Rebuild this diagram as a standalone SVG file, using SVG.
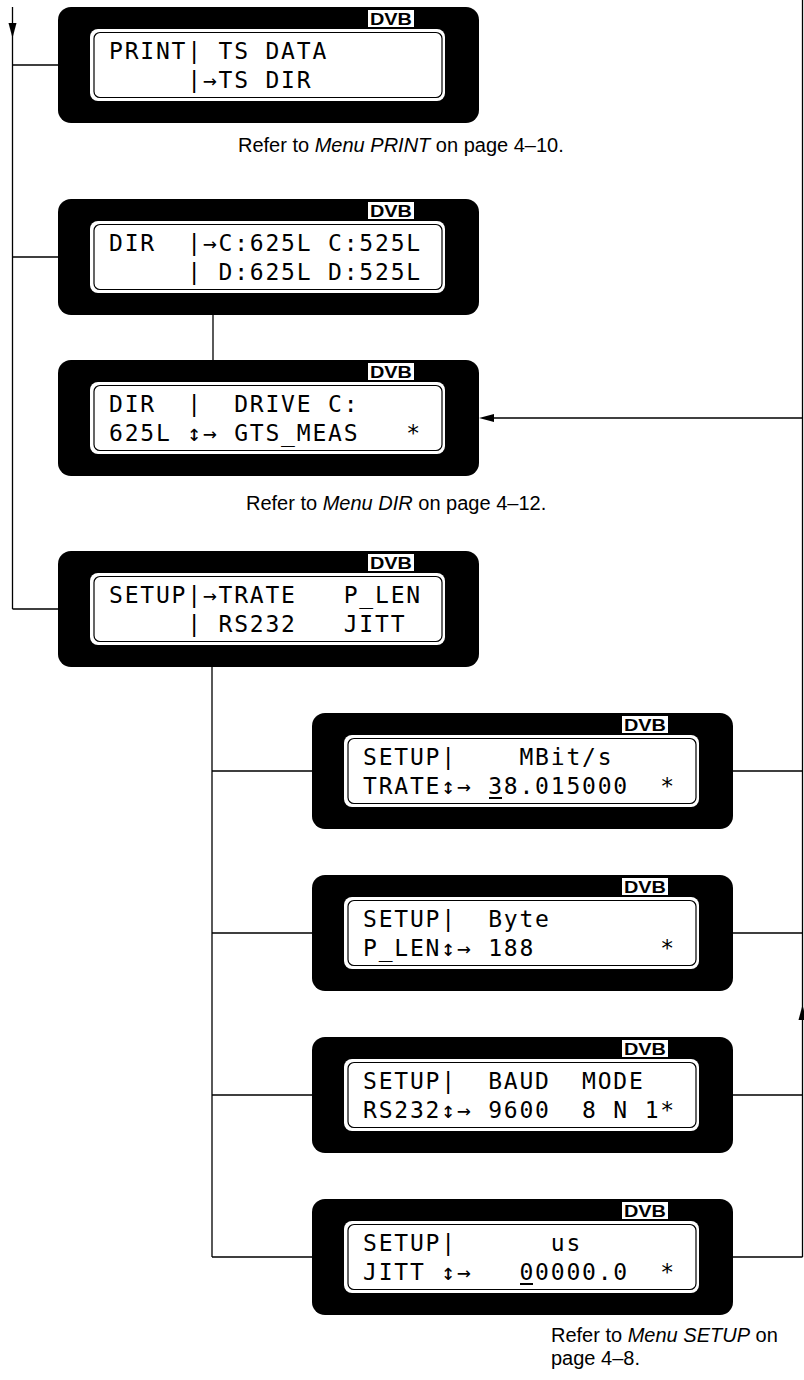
<svg xmlns="http://www.w3.org/2000/svg" width="804" height="1380" viewBox="0 0 804 1380">
<style>
.frame{fill:#000}
.panel{fill:#fff}
.bezel{fill:none;stroke:#000;stroke-width:1.2}
.lcd{font-family:"DejaVu Sans Mono",monospace;font-size:23px;letter-spacing:1.8px;fill:#000;white-space:pre}
.logobg{fill:#fff}
.logo{font-family:"Liberation Sans",Arial,sans-serif;font-weight:bold;font-size:17px;fill:#000}
.cap{font-family:"Liberation Sans",Arial,sans-serif;font-size:20px;fill:#000}
.wire{stroke:#000;stroke-width:1.3;fill:none}
.ul{stroke:#000;stroke-width:2}
</style>
<defs>
<g id="lcdbox">
<rect class="frame" x="0" y="0" width="421" height="116" rx="13"/>
<rect class="panel" x="32" y="22" width="355" height="72" rx="8"/>
<rect class="bezel" x="36" y="25.5" width="348" height="65" rx="6"/>
<rect class="logobg" x="310" y="3" width="46" height="17"/>
<text class="logo" x="312" y="18" textLength="42" lengthAdjust="spacingAndGlyphs">DVB</text>
</g>
</defs>

<g id="connectors">
<path class="wire" d="M12.5,7 V609 M12.5,65 H58 M12.5,257 H58 M12.5,609 H58"/>
<polygon points="8.5,23 16.5,23 12.5,38" fill="#000"/>
<path class="wire" d="M213,315 V360"/>
<path class="wire" d="M212,667 V1257 M212,771 H312 M212,933 H312 M212,1095 H312 M212,1257 H312"/>
<path class="wire" d="M802.5,0 V1257 M733,771 H802.5 M733,933 H802.5 M733,1095 H802.5 M733,1257 H802.5"/>
<path class="wire" d="M802.5,418 H492"/>
<polygon points="479,418 494,414 494,422" fill="#000"/>
<polygon points="802.5,1005 798.5,1020 806.5,1020" fill="#000"/>
</g>

<g id="print" transform="translate(58,7)">
<use href="#lcdbox"/>
<text class="lcd" x="51" y="52">PRINT| TS DATA</text>
<text class="lcd" x="51" y="81">     |→TS DIR</text>
</g>

<g id="dirlist" transform="translate(58,199)">
<use href="#lcdbox"/>
<text class="lcd" x="51" y="52">DIR  |→C:625L C:525L</text>
<text class="lcd" x="51" y="81">     | D:625L D:525L</text>
</g>

<g id="dirdrive" transform="translate(58,360)">
<use href="#lcdbox"/>
<text class="lcd" x="51" y="52">DIR  |  DRIVE C:</text>
<text class="lcd" x="51" y="81">625L ↕→ GTS_MEAS   *</text>
</g>

<g id="setup" transform="translate(58,551)">
<use href="#lcdbox"/>
<text class="lcd" x="51" y="52">SETUP|→TRATE   P_LEN</text>
<text class="lcd" x="51" y="81">     | RS232   JITT</text>
</g>

<g id="trate" transform="translate(312,713)">
<use href="#lcdbox"/>
<text class="lcd" x="51" y="52">SETUP|    MBit/s</text>
<text class="lcd" x="51" y="81">TRATE↕→ 38.015000  *</text>
<line class="ul" x1="177" y1="85" x2="190" y2="85"/>
</g>

<g id="plen" transform="translate(312,875)">
<use href="#lcdbox"/>
<text class="lcd" x="51" y="52">SETUP|  Byte</text>
<text class="lcd" x="51" y="81">P_LEN↕→ 188        *</text>
</g>

<g id="rs232" transform="translate(312,1037)">
<use href="#lcdbox"/>
<text class="lcd" x="51" y="52">SETUP|  BAUD  MODE</text>
<text class="lcd" x="51" y="81">RS232↕→ 9600  8 N 1*</text>
</g>

<g id="jitt" transform="translate(312,1199)">
<use href="#lcdbox"/>
<text class="lcd" x="51" y="52">SETUP|      us</text>
<text class="lcd" x="51" y="81">JITT ↕→   00000.0  *</text>
<line class="ul" x1="208" y1="85" x2="221" y2="85"/>
</g>

<g id="captions">
<text class="cap" x="238" y="152">Refer to <tspan font-style="italic">Menu PRINT</tspan> on page 4–10.</text>
<text class="cap" x="246" y="510">Refer to <tspan font-style="italic">Menu DIR</tspan> on page 4–12.</text>
<text class="cap" x="551" y="1342">Refer to <tspan font-style="italic">Menu SETUP</tspan> on</text>
<text class="cap" x="551" y="1365">page 4–8.</text>
</g>
</svg>
